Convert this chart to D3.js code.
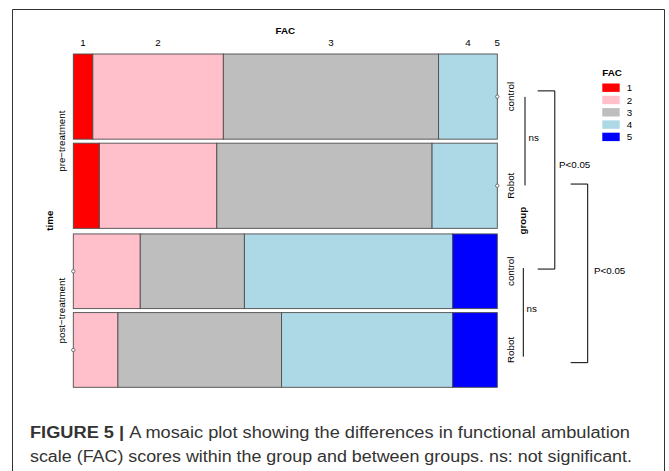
<!DOCTYPE html>
<html>
<head>
<meta charset="utf-8">
<script src="https://cdn.jsdelivr.net/npm/d3@7"></script>
<style>
  body { margin: 0; background: #fff; }
</style>
</head>
<body>
<div id="chart"></div>
<script>
// Counts of patients per FAC score.
const TIMES = ["pre\u2212treatment", "post\u2212treatment"];
const GROUPS = ["control", "Robot"];
const FAC_LEVELS = ["1", "2", "3", "4", "5"];
const FAC_COLORS = ["red", "pink", "#BEBEBE", "lightblue", "blue"];

const PRE_CONTROL = [3, 20, 33, 9, 0];
const PRE_ROBOT = [4, 18, 33, 10, 0];
const POST_CONTROL = [0, 9, 14, 28, 6];
const POST_ROBOT = [0, 6, 22, 23, 6];

// Significance brackets between rows (row index 0..3).
const BRACKET_FROM = [0, 2, 0, 1];
const BRACKET_TO = [1, 3, 2, 3];
const BRACKET_LABELS = ["ns", "ns", "P<0.05", "P<0.05"];

const CAPTION_BOLD = "FIGURE 5 | ";
const CAPTION_LINE1 = "A mosaic plot showing the differences in functional ambulation";
const CAPTION_LINE2 = "scale (FAC) scores within the group and between groups. ns: not significant.";

// Dimensions and layout constants.
const WIDTH = 669;
const HEIGHT = 471;
const PLOT_LEFT = 73.3;
const PLOT_RIGHT = 497.3;
const PLOT_TOP = 54;
const PLOT_BOTTOM = 387.3;
const GROUP_GAP = 4;
const TIME_GAP = 5.6;
const FONT = "'Liberation Sans', Arial, sans-serif";
const LABEL_SIZE = 9.8;
const BORDER_COLOR = "#4d4d4d";

const svg = d3.select("#chart")
              .append("svg")
              .attr("width", WIDTH)
              .attr("height", HEIGHT)
              .style("font-family", FONT);

// Figure frame.
svg.append("path")
    .attr("d", `M12.5,${HEIGHT} V9.5 H664.5 V${HEIGHT}`)
    .attr("fill", "none")
    .attr("stroke", "#333")
    .attr("stroke-width", 1);

// Builds the rows of the mosaic (time first, then group).
const COUNTS = [[PRE_CONTROL, PRE_ROBOT], [POST_CONTROL, POST_ROBOT]];
const total = d3.sum(COUNTS.flat(2));
const gapTotal = 2 * GROUP_GAP + TIME_GAP;

const xScale = d3.scaleLinear()
                  .domain([0, 1])
                  .range([PLOT_LEFT, PLOT_RIGHT]);
const yScale = d3.scaleLinear()
                  .domain([0, total])
                  .range([0, PLOT_BOTTOM - PLOT_TOP - gapTotal]);

const rows = [];
let cum = 0;
let gap = 0;
TIMES.forEach((time, ti) => {
    GROUPS.forEach((group, gi) => {
        const counts = COUNTS[ti][gi];
        const n = d3.sum(counts);
        if (rows.length) gap += gi === 0 ? TIME_GAP : GROUP_GAP;
        const y0 = PLOT_TOP + yScale(cum) + gap;
        let acc = 0;
        const cells = counts.map((c, k) => {
            const cell = { level: k, count: c, p0: acc / n, p1: (acc + c) / n };
            acc += c;
            return cell;
        });
        rows.push({ time, group, ti, counts, n, y0, h: yScale(n), cells });
        cum += n;
    });
});
const rowCenter = i => rows[i].y0 + rows[i].h / 2;

// Draws the tiles.
const rowGroups = svg.selectAll("g.row")
    .data(rows)
    .join("g")
    .attr("class", "row");

rowGroups.selectAll("rect")
    .data(d => d.cells.filter(c => c.count > 0).map(c => ({ ...c, row: d })))
    .join("rect")
    .attr("x", d => xScale(d.p0))
    .attr("y", d => d.row.y0)
    .attr("width", d => xScale(d.p1) - xScale(d.p0))
    .attr("height", d => d.row.h)
    .attr("fill", d => FAC_COLORS[d.level])
    .attr("stroke", BORDER_COLOR)
    .attr("stroke-width", 0.9);

// Empty cells are marked with a small circle, as R's mosaic does.
rowGroups.selectAll("circle")
    .data(d => d.cells.filter(c => c.count === 0).map(c => ({ ...c, row: d })))
    .join("circle")
    .attr("cx", d => xScale(d.p0))
    .attr("cy", d => d.row.y0 + d.row.h / 2)
    .attr("r", 1.7)
    .attr("fill", "#fff")
    .attr("stroke", "#555")
    .attr("stroke-width", 0.8);

// Top FAC labels, centred on the cells of the first row.
svg.selectAll("text.facTick")
    .data(rows[0].cells)
    .join("text")
    .attr("class", "facTick")
    .attr("x", d => xScale((d.p0 + d.p1) / 2))
    .attr("y", 45.6)
    .attr("text-anchor", "middle")
    .attr("font-size", LABEL_SIZE)
    .attr("fill", "#000")
    .text(d => FAC_LEVELS[d.level]);

svg.append("text")
    .attr("x", (PLOT_LEFT + PLOT_RIGHT) / 2)
    .attr("y", 33.5)
    .attr("text-anchor", "middle")
    .attr("font-size", LABEL_SIZE)
    .attr("font-weight", "bold")
    .text("FAC");

// Left time labels.
TIMES.forEach((time, ti) => {
    const r = rows.filter(d => d.ti === ti);
    const cy = (r[0].y0 + r[r.length - 1].y0 + r[r.length - 1].h) / 2;
    svg.append("text")
        .attr("transform", `translate(65.2, ${cy}) rotate(-90)`)
        .attr("text-anchor", "middle")
        .attr("font-size", LABEL_SIZE)
        .text(time);
});

svg.append("text")
    .attr("transform", `translate(52.5, ${(PLOT_TOP + PLOT_BOTTOM) / 2}) rotate(-90)`)
    .attr("text-anchor", "middle")
    .attr("font-size", LABEL_SIZE)
    .attr("font-weight", "bold")
    .text("time");

// Right group labels.
svg.selectAll("text.groupLabel")
    .data(rows)
    .join("text")
    .attr("class", "groupLabel")
    .attr("transform", d => `translate(514, ${d.y0 + d.h / 2}) rotate(-90)`)
    .attr("text-anchor", "middle")
    .attr("font-size", LABEL_SIZE)
    .text(d => d.group);

svg.append("text")
    .attr("transform", `translate(526, ${(PLOT_TOP + PLOT_BOTTOM) / 2}) rotate(-90)`)
    .attr("text-anchor", "middle")
    .attr("font-size", LABEL_SIZE)
    .attr("font-weight", "bold")
    .text("group");

// Significance brackets: a plain line for "ns", a square bracket for P values.
const BRACKET_STYLE = [
    { x: 525, x0: 525, dy0: 0.3, dy1: -0.3, tx: 528.5, ty: 141 },
    { x: 523.3, x0: 523.3, dy0: -3.2, dy1: 6.7, tx: 526.5, ty: 312 },
    { x: 554.8, x0: 537.7, dy0: -5.7, dy1: -2.2, tx: 559, ty: 168 },
    { x: 587.7, x0: 570.7, dy0: -1.7, dy1: 12.7, tx: 594, ty: 273.5 }
];

BRACKET_LABELS.forEach((label, i) => {
    const s = BRACKET_STYLE[i];
    const y0 = rowCenter(BRACKET_FROM[i]) + s.dy0;
    const y1 = rowCenter(BRACKET_TO[i]) + s.dy1;
    svg.append("path")
        .attr("d", `M${s.x0},${y0} H${s.x} V${y1} H${s.x0}`)
        .attr("fill", "none")
        .attr("stroke", "#000")
        .attr("stroke-width", 1);
    svg.append("text")
        .attr("x", s.tx)
        .attr("y", s.ty)
        .attr("font-size", LABEL_SIZE)
        .text(label);
});

// Legend.
const legend = svg.append("g").attr("transform", "translate(602.3, 0)");
legend.append("text")
    .attr("x", 0)
    .attr("y", 75.5)
    .attr("font-size", LABEL_SIZE)
    .attr("font-weight", "bold")
    .text("FAC");

const legendY = d3.scaleLinear().domain([0, 1]).range([87.7, 100]);
legend.selectAll("rect")
    .data(FAC_LEVELS)
    .join("rect")
    .attr("x", 0)
    .attr("y", (d, i) => legendY(i) - 4.2)
    .attr("width", 17.4)
    .attr("height", 8.4)
    .attr("fill", (d, i) => FAC_COLORS[i]);

legend.selectAll("text.legendLabel")
    .data(FAC_LEVELS)
    .join("text")
    .attr("class", "legendLabel")
    .attr("x", 24.5)
    .attr("y", (d, i) => legendY(i) + 3.5)
    .attr("font-size", LABEL_SIZE)
    .text(d => d);

// Caption.
const caption = svg.append("g")
    .attr("fill", "#333")
    .attr("font-size", 15.6);

const line1 = caption.append("text")
    .attr("x", 30)
    .attr("y", 437.7)
    .attr("textLength", 600)
    .attr("lengthAdjust", "spacingAndGlyphs");
line1.append("tspan").attr("font-weight", "bold").text(CAPTION_BOLD);
line1.append("tspan").text(CAPTION_LINE1);

caption.append("text")
    .attr("x", 30)
    .attr("y", 461.5)
    .attr("textLength", 602)
    .attr("lengthAdjust", "spacingAndGlyphs")
    .text(CAPTION_LINE2);
</script>
</body>
</html>
